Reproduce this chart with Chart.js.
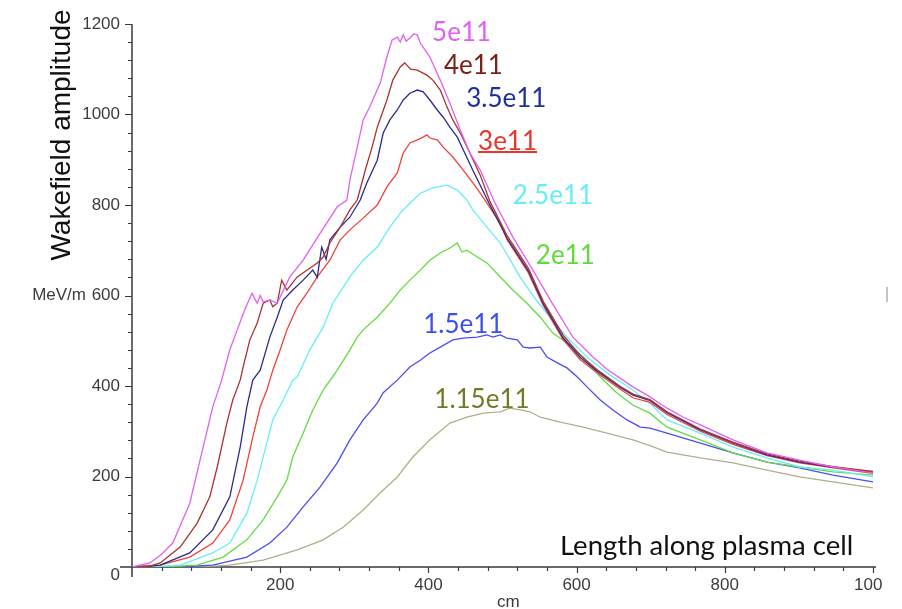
<!DOCTYPE html>
<html>
<head>
<meta charset="utf-8">
<title>Wakefield amplitude</title>
<script src="https://cdn.jsdelivr.net/npm/chart.js"></script>
<style>
  body { margin: 0; background: #fff; }
  #wrap { width: 902px; height: 609px; }
</style>
</head>
<body>
<div id="wrap"><canvas id="myChart" width="902" height="609"></canvas></div>
<script>
// bunch populations (legend text) and line colours
var series_names = ["5e11", "4e11", "3.5e11", "3e11", "2.5e11", "2e11", "1.5e11", "1.15e11"];

// values: position along the cell (cm) and amplitude (MeV/m)
var cm_5e11 = [0, 24, 40, 55, 78, 96, 109, 121, 132, 142, 152, 162, 166, 169, 173, 177, 186, 196, 213, 231, 254, 277, 290, 294, 304, 312, 321, 335, 344, 351, 358, 362, 366, 370, 375, 380, 385, 389, 402, 416, 429, 443, 456, 470, 490, 514, 541, 567, 595, 622, 641, 676, 699, 722, 744, 767, 811, 857, 901, 946, 1000];
var mv_5e11 = [0, 9, 28, 53, 141, 265, 354, 413, 480, 524, 568, 605, 592, 583, 600, 586, 590, 583, 641, 678, 738, 796, 811, 855, 928, 988, 1017, 1070, 1127, 1165, 1171, 1160, 1176, 1162, 1169, 1178, 1176, 1158, 1127, 1076, 1025, 966, 915, 877, 804, 729, 656, 583, 508, 464, 437, 398, 376, 351, 331, 314, 281, 252, 236, 221, 208];

var cm_4e11 = [0, 24, 38, 65, 88, 105, 115, 128, 136, 146, 150, 159, 169, 177, 186, 190, 196, 202, 209, 223, 236, 250, 258, 267, 281, 294, 304, 316, 324, 331, 344, 352, 362, 368, 376, 385, 398, 406, 416, 425, 433, 443, 456, 470, 483, 506, 535, 555, 582, 605, 627, 658, 676, 699, 722, 767, 811, 857, 901, 946, 1000];
var mv_4e11 = [0, 2, 9, 44, 97, 155, 221, 318, 369, 413, 442, 502, 539, 583, 590, 575, 583, 634, 612, 641, 656, 672, 685, 716, 751, 789, 811, 884, 928, 972, 1032, 1076, 1105, 1114, 1100, 1098, 1087, 1076, 1054, 1017, 988, 959, 915, 866, 808, 733, 660, 587, 512, 468, 437, 400, 382, 370, 343, 305, 276, 250, 234, 222, 211];

var cm_35e11 = [0, 24, 38, 78, 109, 132, 146, 155, 163, 173, 186, 196, 204, 217, 231, 244, 250, 256, 262, 267, 281, 294, 308, 317, 331, 339, 348, 358, 366, 375, 385, 393, 402, 412, 420, 429, 439, 447, 460, 483, 506, 535, 555, 582, 605, 627, 658, 676, 699, 722, 767, 811, 857, 901, 946, 1000];
var mv_35e11 = [0, 2, 4, 31, 82, 155, 265, 354, 413, 435, 508, 552, 590, 612, 634, 656, 640, 707, 680, 723, 751, 773, 811, 849, 899, 959, 988, 1010, 1032, 1047, 1054, 1050, 1032, 1010, 994, 972, 950, 922, 877, 800, 727, 654, 582, 506, 463, 434, 398, 380, 368, 341, 303, 274, 248, 232, 221, 209];

var cm_3e11 = [0, 38, 78, 109, 132, 150, 163, 173, 182, 190, 200, 209, 223, 236, 250, 267, 281, 294, 312, 331, 344, 358, 366, 375, 385, 393, 398, 402, 412, 420, 433, 447, 460, 470, 497, 506, 535, 555, 582, 605, 627, 658, 676, 699, 722, 767, 811, 857, 901, 946, 1000];
var mv_3e11 = [0, 4, 22, 53, 104, 192, 287, 354, 391, 435, 480, 524, 575, 605, 641, 678, 723, 745, 771, 800, 840, 871, 915, 937, 944, 950, 955, 948, 944, 928, 906, 877, 849, 826, 760, 724, 650, 578, 502, 458, 430, 394, 374, 364, 337, 300, 271, 246, 230, 219, 207];

var cm_25e11 = [0, 24, 65, 109, 132, 155, 169, 177, 190, 204, 217, 223, 240, 258, 271, 294, 312, 331, 348, 362, 375, 389, 406, 425, 439, 452, 460, 479, 497, 510, 524, 541, 564, 587, 614, 641, 676, 699, 722, 767, 811, 857, 901, 946, 1000];
var mv_25e11 = [0, 0, 4, 31, 53, 119, 192, 243, 325, 369, 413, 420, 480, 530, 583, 641, 678, 707, 751, 782, 804, 826, 838, 844, 833, 811, 789, 751, 716, 680, 640, 600, 552, 508, 464, 429, 391, 362, 325, 296, 265, 241, 221, 214, 199];

var cm_2e11 = [0, 38, 88, 123, 155, 177, 196, 209, 217, 231, 244, 258, 277, 294, 304, 312, 331, 348, 362, 375, 389, 402, 416, 429, 439, 445, 452, 466, 479, 497, 514, 533, 551, 568, 587, 609, 632, 654, 676, 699, 722, 767, 811, 857, 901, 946, 1000];
var mv_2e11 = [0, 0, 4, 22, 60, 104, 155, 192, 243, 296, 347, 391, 435, 480, 508, 524, 552, 583, 612, 634, 656, 678, 694, 705, 716, 696, 700, 685, 672, 641, 612, 583, 552, 517, 495, 464, 420, 385, 358, 340, 309, 281, 252, 232, 221, 210, 203];

var cm_15e11 = [0, 65, 109, 155, 186, 209, 231, 254, 277, 294, 312, 331, 339, 358, 375, 389, 402, 416, 433, 447, 466, 479, 487, 497, 506, 520, 528, 537, 551, 560, 574, 587, 601, 614, 632, 649, 668, 686, 699, 722, 767, 811, 857, 901, 946, 1000];
var mv_15e11 = [0, 0, 4, 22, 53, 88, 133, 177, 230, 281, 325, 362, 385, 413, 442, 457, 473, 486, 502, 506, 508, 513, 508, 513, 506, 502, 486, 484, 486, 464, 451, 440, 420, 398, 369, 347, 325, 309, 307, 296, 274, 252, 232, 219, 203, 188];

var cm_115e11 = [0, 92, 132, 177, 223, 258, 285, 312, 335, 358, 379, 402, 429, 452, 474, 497, 510, 524, 537, 551, 578, 609, 641, 676, 699, 722, 767, 811, 857, 901, 946, 1000];
var mv_115e11 = [0, 0, 4, 15, 38, 60, 88, 126, 164, 199, 243, 281, 318, 331, 340, 343, 351, 347, 343, 331, 320, 309, 296, 281, 268, 254, 241, 230, 214, 199, 188, 175];

var all_cm = [cm_5e11, cm_4e11, cm_35e11, cm_3e11, cm_25e11, cm_2e11, cm_15e11, cm_115e11];
var all_mv = [mv_5e11, mv_4e11, mv_35e11, mv_3e11, mv_25e11, mv_2e11, mv_15e11, mv_115e11];

// axis ticks
var x_ticks = [200, 400, 600, 800, 1000];
var y_ticks = [0, 200, 400, 600, 800, 1000, 1200];

// where each series name is written (cm, MeV/m)
var name_cm = [405, 421, 451, 467, 514, 545, 393, 408];
var name_mv = [1180, 1109, 1036, 939, 820, 689, 535, 369];

var line_colors = ["#e060f2", "#a8332f", "#2b2b8c", "#f0403a", "#66eefa", "#62dc42", "#4c4cf2", "#b3ad8c"];
var text_colors = ["#e35ef5", "#7c2018", "#1f2f9c", "#e8362b", "#66eef8", "#5edc3a", "#3b50f0", "#77772a"];

var datasets = []
for (let i = 0; i < series_names.length; i++) {
    datasets.push({
        label: series_names[i],
        data: all_cm[i].map((c, j) => ({ x: c, y: all_mv[i][j] })),
        borderColor: line_colors[i],
        borderWidth: 1.3,
        pointRadius: 0,
        tension: 0,
        fill: false
    })
}

// maple-style axes crossing at the origin, drawn on the chart's own scales
var axesPlugin = {
    id: 'mapleAxes',
    beforeDatasetsDraw(chart) {
        let ctx = chart.ctx
        let sx = chart.scales.x, sy = chart.scales.y
        let x0 = sx.getPixelForValue(0), y0 = sy.getPixelForValue(0)
        let xEnd = sx.getPixelForValue(1000), yTop = sy.getPixelForValue(1200)
        ctx.save()
        ctx.strokeStyle = '#3a3a3a'
        ctx.lineWidth = 1.5
        ctx.beginPath()
        ctx.moveTo(x0, yTop); ctx.lineTo(x0, y0 + 10)
        ctx.moveTo(x0 - 12, y0); ctx.lineTo(xEnd + 3, y0)
        ctx.stroke()

        ctx.lineWidth = 1.2
        ctx.beginPath()
        for (let v = 40; v <= 1200; v += 40) {
            let py = Math.round(sy.getPixelForValue(v)) + 0.5
            let len = v % 200 === 0 ? 7 : 4
            ctx.moveTo(x0 - len, py); ctx.lineTo(x0, py)
        }
        for (let v = 40; v <= 1000; v += 40) {
            let px = Math.round(sx.getPixelForValue(v)) + 0.5
            let len = v % 200 === 0 ? 6 : 4
            ctx.moveTo(px, y0); ctx.lineTo(px, y0 + len)
        }
        ctx.stroke()

        // tick labels
        ctx.fillStyle = '#3c3c3c'
        ctx.font = '17px "Liberation Sans", Arial, sans-serif'
        ctx.textAlign = 'right'
        ctx.textBaseline = 'middle'
        y_ticks.forEach(v => {
            let py = sy.getPixelForValue(v)
            ctx.fillText(String(v), x0 - 12, v === 0 ? py + 8 : py)
        })
        ctx.fillText('MeV/m', x0 - 46, sy.getPixelForValue(600))

        // the last label is cut off in the original
        ctx.save()
        ctx.beginPath()
        ctx.rect(0, 0, 882, chart.height)
        ctx.clip()
        ctx.textAlign = 'center'
        x_ticks.forEach(v => {
            ctx.fillText(String(v), sx.getPixelForValue(v), y0 + 18)
        })
        ctx.restore()

        ctx.textAlign = 'left'
        ctx.textBaseline = 'alphabetic'
        ctx.fillText('cm', 497, 607)

        // little stray mark at the right edge of the original
        ctx.strokeStyle = '#c4c4c4'
        ctx.lineWidth = 2
        ctx.beginPath()
        ctx.moveTo(887, 287); ctx.lineTo(887, 302)
        ctx.stroke()
        ctx.restore()
    },
    afterDraw(chart) {
        let ctx = chart.ctx
        let sx = chart.scales.x, sy = chart.scales.y
        ctx.save()

        // axis titles
        ctx.fillStyle = '#111'
        ctx.font = '28px "Liberation Sans", Arial, sans-serif'
        ctx.textAlign = 'center'
        ctx.textBaseline = 'alphabetic'
        ctx.translate(70, 135)
        ctx.rotate(-Math.PI / 2)
        ctx.fillText('Wakefield amplitude', 0, 0)
        ctx.setTransform(1, 0, 0, 1, 0, 0)

        ctx.font = '27.5px Lato, "Open Sans", sans-serif'
        ctx.textAlign = 'left'
        ctx.fillText('Length along plasma cell', 560, 555)

        // series names next to the curves
        ctx.font = '26px Lato, "Open Sans", sans-serif'
        ctx.textBaseline = 'middle'
        for (let i = 0; i < series_names.length; i++) {
            let px = sx.getPixelForValue(name_cm[i])
            let py = sy.getPixelForValue(name_mv[i])
            ctx.fillStyle = text_colors[i]
            ctx.fillText(series_names[i], px, py)
            if (series_names[i] === '3e11') {
                let w = ctx.measureText(series_names[i]).width
                ctx.strokeStyle = text_colors[i]
                ctx.lineWidth = 2
                ctx.beginPath()
                ctx.moveTo(px, py + 10); ctx.lineTo(px + w, py + 10)
                ctx.stroke()
            }
        }
        ctx.restore()
    }
}

var chart = new Chart("myChart", {
    type: "line",
    data: { datasets: datasets },
    options: {
        responsive: false,
        animation: false,
        devicePixelRatio: 1,
        layout: { padding: { left: 132, right: 29, top: 24, bottom: 42 } },
        plugins: {
            legend: { display: false },
            tooltip: { enabled: false }
        },
        scales: {
            x: { type: 'linear', min: 0, max: 1000, display: false },
            y: { type: 'linear', min: 0, max: 1200, display: false }
        }
    },
    plugins: [axesPlugin]
});
</script>
</body>
</html>
